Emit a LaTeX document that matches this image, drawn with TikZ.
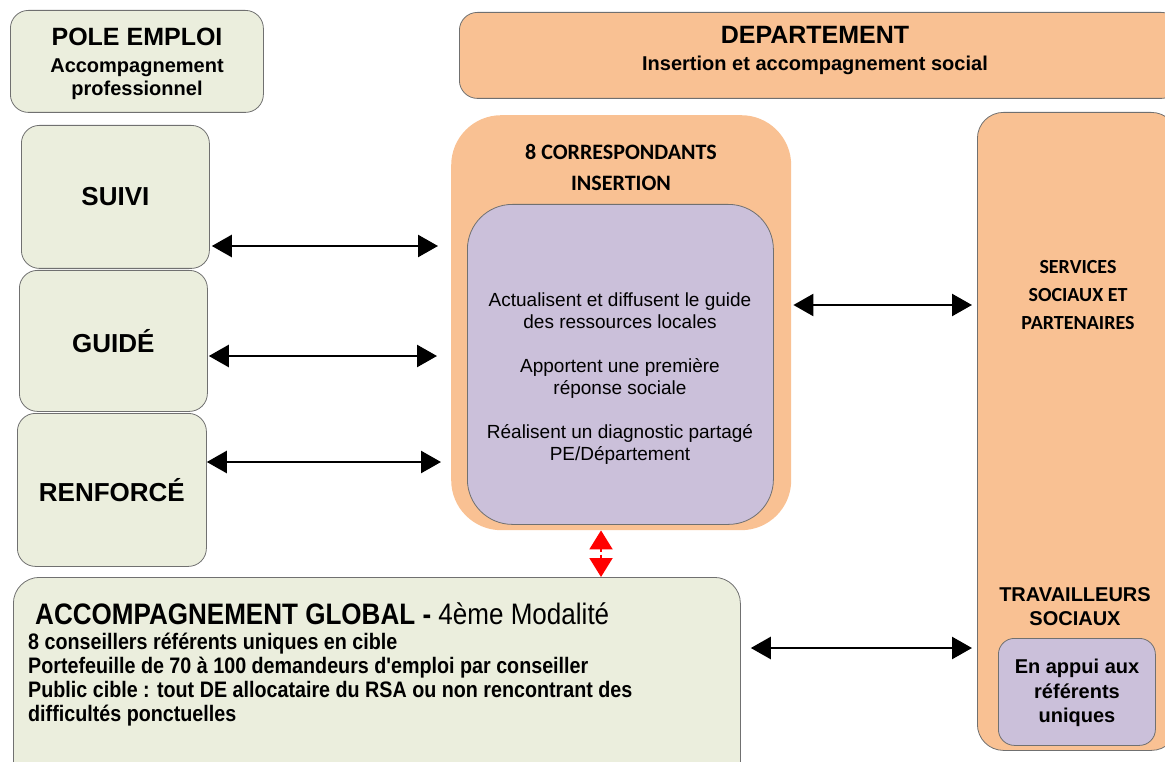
\documentclass[tikz,border=0pt]{standalone}
\usepackage{fontspec}
\setmainfont{Liberation Sans}
\newfontfamily\calibrifont{Carlito}
\newfontfamily\narrowfont{Liberation Sans}[FakeStretch=0.88]
\usepackage{tikz}
\usetikzlibrary{positioning, arrows.meta}

\definecolor{peGreen}{HTML}{EBEEDD}
\definecolor{dptPeach}{HTML}{F9C193}
\definecolor{ciPurple}{HTML}{CBC0DA}
\definecolor{boxGrey}{HTML}{707070}

\newcommand{\fsz}[2]{\fontsize{#1}{#2}\selectfont}

\begin{document}
\begin{tikzpicture}[%
    x=1pt, y=-1pt,
    every node/.style={align=center, inner sep=0pt},
    pebox/.style={draw=boxGrey, fill=peGreen, line width=0.8pt, rounded corners=18pt, anchor=north west},
    dptbox/.style={draw=boxGrey, fill=dptPeach, line width=0.8pt, rounded corners=18pt, anchor=north west},
    ribox/.style={draw=boxGrey, fill=ciPurple, line width=0.8pt, anchor=north west},
    biarrow/.style={{Triangle[length=20pt,width=22pt]}-{Triangle[length=20pt,width=22pt]}, line width=2.5pt},
    redarrow/.style={-{Triangle[length=19pt,width=23pt]}, red, line width=2pt},
]

\useasboundingbox (0,0) rectangle (1165,762);

% left column: pole emploi
\node[pebox, minimum width=253pt, minimum height=102pt] (pole) at (10,10) {};
\node[font=\fsz{20}{23}\bfseries] (poletitle) at (137,64)
    {{\fsz{25}{27}POLE EMPLOI}\\[4pt] Accompagnement\\ professionnel};
\node[pebox, minimum width=188pt, minimum height=143pt, font=\fsz{26}{30}\bfseries] (suivi) at (21,125) {SUIVI};
\node[pebox, minimum width=188pt, minimum height=141pt, font=\fsz{26}{30}\bfseries] (guide) at (19,270) {GUIDÉ};
\node[pebox, minimum width=189pt, minimum height=153pt, font=\fsz{26}{30}\bfseries] (renforce) at (17,413) {RENFORCÉ};

% departement
\node[dptbox, minimum width=720pt, minimum height=86pt] (dpt) at (459,12) {};
\node[font=\fsz{20}{23}\bfseries] (dpttitle) at (815,51)
    {{\fsz{25}{27}DEPARTEMENT}\\[4pt] Insertion et accompagnement social};

% correspondants insertion
\node[fill=dptPeach, rounded corners=50pt, anchor=north west, minimum width=340pt, minimum height=415pt] (corr) at (451,115) {};
\node[font=\calibrifont\fsz{22}{31}\bfseries] (corrtitle) at (621,167) {8 CORRESPONDANTS\\ INSERTION};
\node[ribox, rounded corners=45pt, minimum width=306pt, minimum height=320pt] (missions) at (467,204) {};
\node[font=\fsz{19}{22}] (missionstext) at (620,378.5)
    {Actualisent et diffusent le guide\\ des ressources locales\\[22pt]
     Apportent une première\\ réponse sociale\\[22pt]
     Réalisent un diagnostic partagé\\ PE/Département};

% services sociaux
\node[dptbox, rounded corners=26pt, minimum width=200pt, minimum height=638pt] (services) at (977,112) {};
\node[font=\calibrifont\fsz{20}{28}\bfseries] (servtitle) at (1078,295) {SERVICES\\ SOCIAUX ET\\ PARTENAIRES};
\node[font=\fsz{20}{24}\bfseries] (travtitle) at (1075,607) {TRAVAILLEURS\\ SOCIAUX};
\node[ribox, rounded corners=16pt, minimum width=157pt, minimum height=107pt] (appui) at (998,638) {};
\node[font=\fsz{20}{24.5}\bfseries] (appuitext) at (1077,693) {En appui aux\\ référents\\ uniques};

% accompagnement global
\node[pebox, rounded corners=26pt, minimum width=727pt, minimum height=215pt] (global) at (13,577) {};
\node[anchor=west, font=\narrowfont\fsz{29.6}{32}] (globaltitle) at (35,614)
    {\textbf{ACCOMPAGNEMENT GLOBAL -} 4ème Modalité};
\node[anchor=north west, align=left, font=\narrowfont\fsz{22.4}{24}\bfseries] (globaltext) at (28,633)
    {8 conseillers référents uniques en cible\\
     Portefeuille de 70 à 100 demandeurs d'emploi par conseiller\\
     Public cible : tout DE allocataire du RSA ou non rencontrant des\\
     difficultés ponctuelles};

% arrows between the boxes
\draw[biarrow, shorten <=2pt, shorten >=13pt] (suivi.east |- 0,246) -- (corr.west |- 0,246);
\draw[biarrow, shorten <=1pt, shorten >=14pt] (guide.east |- 0,356) -- (corr.west |- 0,356);
\draw[biarrow, shorten <=0pt, shorten >=10pt] (renforce.east |- 0,462) -- (corr.west |- 0,462);
\draw[biarrow, shorten <=2pt, shorten >=5pt] (corr.east |- 0,305) -- (services.west |- 0,305);
\draw[biarrow, shorten <=10pt, shorten >=5pt] (global.east |- 0,648) -- (services.west |- 0,648);

% red link
\coordinate (redmid) at (601,553);
\draw[redarrow, shorten <=1.5pt] (redmid) -- (corr.south -| redmid);
\draw[redarrow, shorten <=1.5pt] (redmid) -- (global.north -| redmid);

\end{tikzpicture}
\end{document}
